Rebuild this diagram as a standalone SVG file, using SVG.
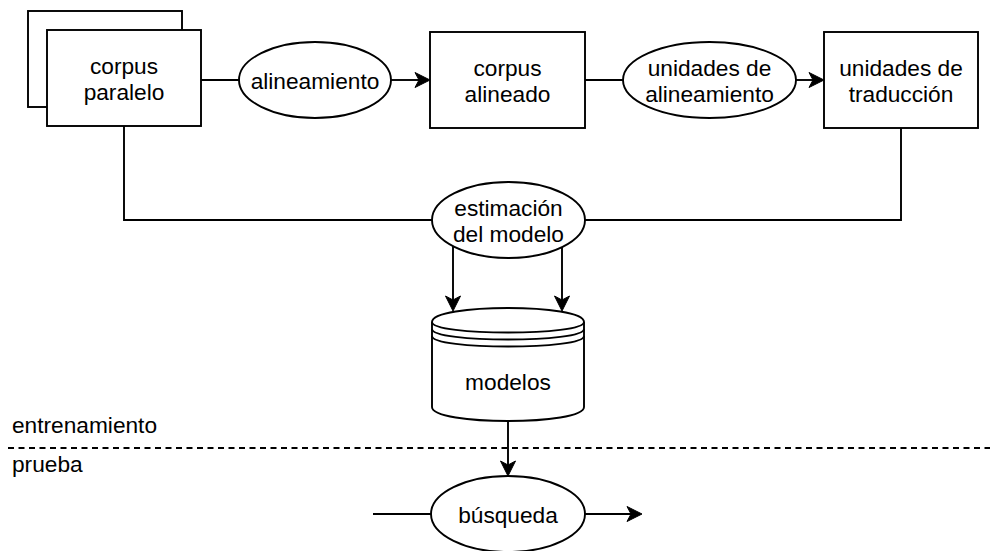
<svg xmlns="http://www.w3.org/2000/svg" width="997" height="551" viewBox="0 0 997 551">
<style>
.s{fill:#fff;stroke:#000;stroke-width:1.9}
.l{fill:none;stroke:#000;stroke-width:1.9}
.t{font-family:"Liberation Sans",Arial,Helvetica,sans-serif;font-size:22.7px;fill:#000;text-anchor:middle}
.tl{font-family:"Liberation Sans",Arial,Helvetica,sans-serif;font-size:22.7px;fill:#000}
</style>
<defs>
<marker id="arr" viewBox="-17 -9 19 18" refX="-10" refY="0" markerWidth="19" markerHeight="18" markerUnits="userSpaceOnUse" orient="auto">
<path d="M0,0 L-15,-7.5 L-11,0 L-15,7.5 Z" fill="#000" stroke="#000" stroke-width="1"/>
</marker>
</defs>
<rect width="997" height="551" fill="#fff"/>
<g id="connectors">
<path class="l" d="M201,80 L239,80"/>
<path class="l" d="M391,80 L420,80" marker-end="url(#arr)"/>
<path class="l" d="M585,80 L623,80"/>
<path class="l" d="M796,80 L814,80" marker-end="url(#arr)"/>
<path class="l" d="M124,126 L124,220 L432,220"/>
<path class="l" d="M901,128 L901,220 L585,220"/>
<path class="l" d="M453,246 L453,301" marker-end="url(#arr)"/>
<path class="l" d="M562,246 L562,301" marker-end="url(#arr)"/>
<path class="l" d="M508,421 L508,466" marker-end="url(#arr)"/>
<path class="l" d="M373,514 L431,514"/>
<path class="l" d="M585,514 L632,514" marker-end="url(#arr)"/>
</g>
<g id="separator">
<path class="l" d="M8,448 L990,448" stroke-dasharray="6 4.5"/>
<text class="tl" x="12" y="433">entrenamiento</text>
<text class="tl" x="12" y="472">prueba</text>
</g>
<g id="corpus-paralelo">
<rect class="s" x="28" y="11" width="154" height="96"/>
<rect class="s" x="47" y="30" width="154" height="96"/>
<text class="t" x="124" y="74">corpus</text>
<text class="t" x="124" y="100">paralelo</text>
</g>
<g id="alineamiento">
<ellipse class="s" cx="315" cy="80" rx="76" ry="38"/>
<text class="t" x="315" y="88.5">alineamiento</text>
</g>
<g id="corpus-alineado">
<rect class="s" x="430" y="32" width="155" height="96"/>
<text class="t" x="507.5" y="76">corpus</text>
<text class="t" x="507.5" y="102">alineado</text>
</g>
<g id="unidades-alineamiento">
<ellipse class="s" cx="709.5" cy="80" rx="86.5" ry="38"/>
<text class="t" x="709.5" y="76">unidades de</text>
<text class="t" x="709.5" y="102">alineamiento</text>
</g>
<g id="unidades-traduccion">
<rect class="s" x="824" y="32" width="154" height="96"/>
<text class="t" x="901" y="76">unidades de</text>
<text class="t" x="901" y="102">traducción</text>
</g>
<g id="estimacion">
<ellipse class="s" cx="508.5" cy="220" rx="76.5" ry="38"/>
<text class="t" x="508.5" y="216">estimación</text>
<text class="t" x="508.5" y="242">del modelo</text>
</g>
<g id="modelos">
<path class="s" d="M432,322 C432,303.33 584,303.33 584,322 L584,407 C584,425.67 432,425.67 432,407 Z"/>
<path class="l" d="M432,322 C432,336 584,336 584,322"/>
<path class="l" d="M432,329 C432,343 584,343 584,329"/>
<path class="l" d="M432,336 C432,350 584,350 584,336"/>
<text class="t" x="508" y="390">modelos</text>
</g>
<g id="busqueda">
<ellipse class="s" cx="508" cy="514" rx="77" ry="38"/>
<text class="t" x="508" y="522.5">búsqueda</text>
</g>
</svg>
